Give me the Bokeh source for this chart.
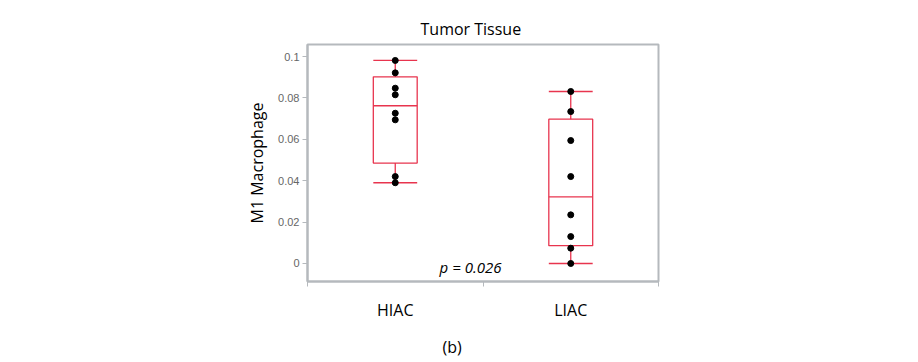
from bokeh.plotting import figure
from bokeh.models import FixedTicker, Label, BoxAnnotation, Range1d, LinearAxis
from bokeh.embed import file_html
from bokeh.resources import INLINE

# ---- data ----
title_text = "Tumor Tissue"
y_label = "M1 Macrophage"
groups = ["HIAC", "LIAC"]
hiac_values = [0.0981, 0.0921, 0.0847, 0.0815, 0.0726, 0.0694, 0.0420, 0.0390]
liac_values = [0.0831, 0.0734, 0.0594, 0.0420, 0.0235, 0.0130, 0.0074, 0.0]
q1 = [0.0485, 0.0086]
median = [0.0762, 0.0322]
q3 = [0.0902, 0.0697]
y_ticks = [0, 0.02, 0.04, 0.06, 0.08, 0.1]
y_tick_labels = ["0", "0.02", "0.04", "0.06", "0.08", "0.1"]
p_text = "p = 0.026"
panel_text = "(b)"

# ---- styling ----
RED = "#e8344e"
GRAY = "#b5b9bd"
Y0, Y1 = -0.0087, 0.1058
HALF = 0.125
PANEL_X = 0.8245  # horizontal place of the "(b)" caption, in x units

group_values = [hiac_values, liac_values]
xc = [i + 0.5 for i in range(len(groups))]
lo = [min(v) for v in group_values]
hi = [max(v) for v in group_values]

p = figure(width=918, height=362, x_range=Range1d(0, 2), y_range=Range1d(Y0, Y1),
           output_backend="svg", toolbar_location=None,
           min_border_left=307, min_border_right=260,
           min_border_top=44, min_border_bottom=81)
p.grid.visible = False
p.outline_line_color = GRAY
p.outline_line_width = 2
p.border_fill_color = "white"

# title
p.title.text = title_text
p.title.align = "left"
p.title.offset = 113
p.title.text_font = "Open Sans"
p.title.text_font_size = "16px"
p.title.text_font_style = "normal"
p.title.text_color = "black"
p.title.standoff = 10

# boxes
left = [x - HALF for x in xc]
right = [x + HALF for x in xc]
p.quad(left=left, right=right, bottom=q1, top=q3, fill_color=None,
       line_color=RED, line_width=1.3)
p.segment(x0=left, x1=right, y0=median, y1=median, line_color=RED, line_width=1.3)
# whiskers
p.segment(x0=xc, x1=xc, y0=q3, y1=hi, line_color=RED, line_width=1.3)
p.segment(x0=xc, x1=xc, y0=q1, y1=lo, line_color=RED, line_width=1.3)
p.segment(x0=left, x1=right, y0=hi, y1=hi, line_color=RED, line_width=1.3)
p.segment(x0=left, x1=right, y0=lo, y1=lo, line_color=RED, line_width=1.3)

# points
px, py = [], []
for x, vals in zip(xc, group_values):
    px += [x] * len(vals)
    py += vals
p.scatter(px, py, size=6, color="black")

# y axis
ya = p.yaxis[0]
ya.ticker = FixedTicker(ticks=y_ticks)
ya.major_label_overrides = dict(zip(y_ticks, y_tick_labels))
ya.major_label_text_font = "Liberation Sans"
ya.major_label_text_font_size = "11px"
ya.major_label_text_color = "#666666"
ya.major_label_standoff = 3
ya.major_tick_out = 5
ya.major_tick_in = 0
ya.major_tick_line_color = GRAY
ya.minor_tick_line_color = None
ya.axis_line_color = GRAY
ya.axis_line_width = 2
ya.axis_label = y_label
ya.axis_label_text_font = "Open Sans"
ya.axis_label_text_font_size = "16px"
ya.axis_label_text_font_style = "normal"
ya.axis_label_text_color = "black"
ya.axis_label_standoff = 7

# x axis
xa = p.xaxis[0]
xa.ticker = FixedTicker(ticks=xc, minor_ticks=[0, 1, 2])
xa.major_label_overrides = dict(zip(xc, groups))
xa.major_tick_line_color = None
xa.major_tick_out = 0
xa.major_tick_in = 0
xa.minor_tick_out = 5
xa.minor_tick_in = 0
xa.minor_tick_line_color = GRAY
xa.axis_line_color = GRAY
xa.axis_line_width = 2
xa.major_label_text_font = "Open Sans"
xa.major_label_text_font_size = "16px"
xa.major_label_text_color = "black"
xa.major_label_standoff = 12

# "(b)" caption as a bare second axis below
cap = LinearAxis(ticker=FixedTicker(ticks=[PANEL_X]),
                 major_label_overrides={PANEL_X: panel_text})
cap.axis_line_color = None
cap.major_tick_line_color = None
cap.minor_tick_line_color = None
cap.major_tick_out = 0
cap.major_tick_in = 0
cap.major_label_text_font = "Open Sans"
cap.major_label_text_font_size = "16px"
cap.major_label_text_color = "black"
cap.major_label_standoff = 12
p.add_layout(cap, "below")

# p value
p.add_layout(Label(x=0.929, y=-0.0019, text=p_text, text_align="center",
                   text_baseline="alphabetic", text_font="Open Sans",
                   text_font_style="italic", text_font_size="15px",
                   text_color="black"))

open("out.html", "w").write(file_html(p, INLINE))
